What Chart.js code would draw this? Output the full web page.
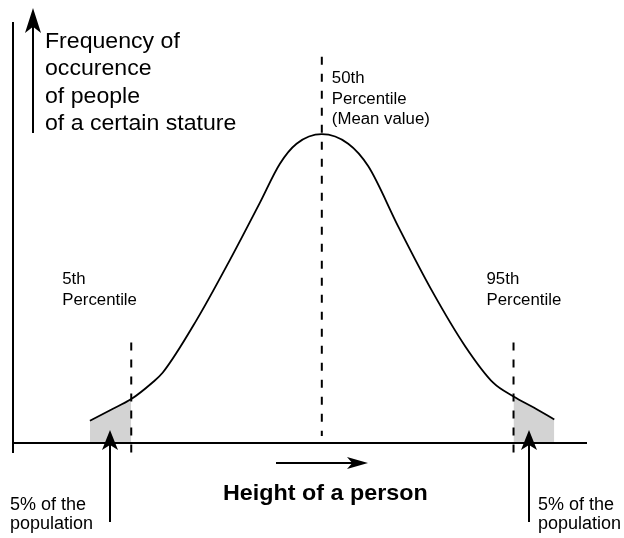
<!DOCTYPE html>
<html>
<head>
<meta charset="utf-8">
<script src="https://cdn.jsdelivr.net/npm/chart.js@4/dist/chart.umd.min.js"></script>
<style>
  html, body { margin: 0; padding: 0; background: #fff; }
  #wrap { width: 624px; height: 538px; }
</style>
</head>
<body>
<div id="wrap"><canvas id="stature" width="624" height="538"></canvas></div>
<script>
// body height (arbitrary units along the axis) and relative frequency
const heightX = [13.4, 17.0, 20.6, 24.2, 26.1, 32.0, 37.8, 43.0, 46.5, 49.4, 53.8,
                 58.4, 61.9, 67.1, 72.9, 78.8, 83.7, 87.2, 90.8, 94.3];
const frequency = [5.1, 7.6, 10.1, 13.8, 16.2, 28.3, 42.1, 55.2, 64.2, 68.8, 71.0,
                   68.8, 63.6, 49.8, 35.2, 22.2, 13.8, 10.7, 8.1, 5.4];

const percentileX = [20.6, 53.8, 87.2];
const percentileLabels = [["5th", "Percentile"], ["50th", "Percentile", "(Mean value)"], ["95th", "Percentile"]];
const yAxisLabel = ["Frequency of", "occurence", "of people", "of a certain stature"];
const xAxisLabel = "Height of a person";
const tailLabel = ["5% of the", "population"];

const FONT = '"Liberation Sans", Arial, Helvetica, sans-serif';

const curve = heightX.map((x, i) => ({ x: x, y: frequency[i] }));
const lowTail = curve.filter(p => p.x <= percentileX[0]);
const highTail = curve.filter(p => p.x >= percentileX[2]);

function text(ctx, str, x, y, font, stretch) {
  ctx.save();
  ctx.font = font;
  ctx.fillStyle = "#000";
  ctx.textBaseline = "alphabetic";
  ctx.textAlign = "left";
  ctx.translate(x, y);
  ctx.scale(stretch || 1, 1);
  ctx.fillText(str, 0, 0);
  ctx.restore();
}

// filled arrow head with a slightly hollow back
function arrow(ctx, x1, y1, x2, y2, len, wid) {
  const a = Math.atan2(y2 - y1, x2 - x1);
  const cos = Math.cos(a), sin = Math.sin(a);
  ctx.beginPath();
  ctx.moveTo(x1, y1);
  ctx.lineTo(x2 - cos * len * 0.7, y2 - sin * len * 0.7);
  ctx.stroke();
  ctx.beginPath();
  ctx.moveTo(x2, y2);
  ctx.lineTo(x2 - cos * len - sin * wid / 2, y2 - sin * len + cos * wid / 2);
  ctx.lineTo(x2 - cos * len * 0.75, y2 - sin * len * 0.75);
  ctx.lineTo(x2 - cos * len + sin * wid / 2, y2 - sin * len - cos * wid / 2);
  ctx.closePath();
  ctx.fill();
}

const diagram = {
  id: "diagram",
  afterDatasetsDraw(chart) {
    const ctx = chart.ctx;
    const xs = chart.scales.x, ys = chart.scales.y;
    const area = chart.chartArea;
    const base = ys.getPixelForValue(0);

    ctx.save();
    ctx.strokeStyle = "#000";
    ctx.fillStyle = "#000";
    ctx.lineWidth = 2;

    // axes
    ctx.beginPath();
    ctx.moveTo(area.left, 22);
    ctx.lineTo(area.left, base + 10);
    ctx.moveTo(area.left, base);
    ctx.lineTo(area.right, base);
    ctx.stroke();

    // percentile markers
    ctx.setLineDash([8, 9]);
    percentileX.forEach((v, i) => {
      const px = xs.getPixelForValue(v);
      ctx.beginPath();
      if (i === 1) {
        ctx.moveTo(px, ys.getPixelForValue(88.8));
        ctx.lineTo(px, base - 7);
      } else {
        ctx.moveTo(px, ys.getPixelForValue(23.1));
        ctx.lineTo(px, base + 13);
      }
      ctx.stroke();
    });
    ctx.setLineDash([]);

    // arrows
    ctx.lineWidth = 2;
    arrow(ctx, 33, 133, 33, 8, 25, 16);
    arrow(ctx, 276, 463, 368, 463, 21, 12);
    const tailArrows = [110, 529];
    tailArrows.forEach(px => arrow(ctx, px, 522, px, 430, 20, 16));

    // texts
    yAxisLabel.forEach((s, i) => text(ctx, s, 45, 47.5 + i * 27.5, "22px " + FONT, 1.05));
    text(ctx, xAxisLabel, 223, 500, "bold 22px " + FONT, 1.06);

    const p5 = xs.getPixelForValue(percentileX[0]);
    const p50 = xs.getPixelForValue(percentileX[1]);
    const p95 = xs.getPixelForValue(percentileX[2]);
    percentileLabels[0].forEach((s, i) => text(ctx, s, p5 - 69, 284 + i * 21, "16px " + FONT, 1.05));
    percentileLabels[1].forEach((s, i) => text(ctx, s, p50 + 10, 83 + i * 20.5, "16px " + FONT, 1.05));
    percentileLabels[2].forEach((s, i) => text(ctx, s, p95 - 27, 284 + i * 21, "16px " + FONT, 1.05));

    tailLabel.forEach((s, i) => text(ctx, s, 10, 510 + i * 18.5, "18px " + FONT, 1));
    tailLabel.forEach((s, i) => text(ctx, s, 538, 510 + i * 18.5, "18px " + FONT, 1));
    ctx.restore();
  }
};

new Chart(document.getElementById("stature"), {
  type: "line",
  data: {
    datasets: [
      {
        data: curve,
        borderColor: "#000",
        borderWidth: 1.8,
        pointRadius: 0,
        cubicInterpolationMode: "monotone",
        fill: false,
        order: 1
      },
      {
        data: lowTail,
        borderWidth: 0,
        pointRadius: 0,
        backgroundColor: "#d3d3d3",
        fill: "origin",
        order: 2
      },
      {
        data: highTail,
        borderWidth: 0,
        pointRadius: 0,
        backgroundColor: "#d3d3d3",
        fill: "origin",
        order: 2
      }
    ]
  },
  options: {
    responsive: false,
    animation: false,
    layout: { padding: { left: 13, right: 37, top: 8, bottom: 95 } },
    plugins: { legend: { display: false }, tooltip: { enabled: false } },
    scales: {
      x: { type: "linear", min: 0, max: 100, display: false },
      y: { min: 0, max: 100, display: false }
    },
    elements: { line: { tension: 0.4 } }
  },
  plugins: [diagram, {
    id: "white",
    beforeDraw(chart) {
      const c = chart.ctx;
      c.save();
      c.fillStyle = "#fff";
      c.fillRect(0, 0, chart.width, chart.height);
      c.restore();
    }
  }]
});
</script>
</body>
</html>
